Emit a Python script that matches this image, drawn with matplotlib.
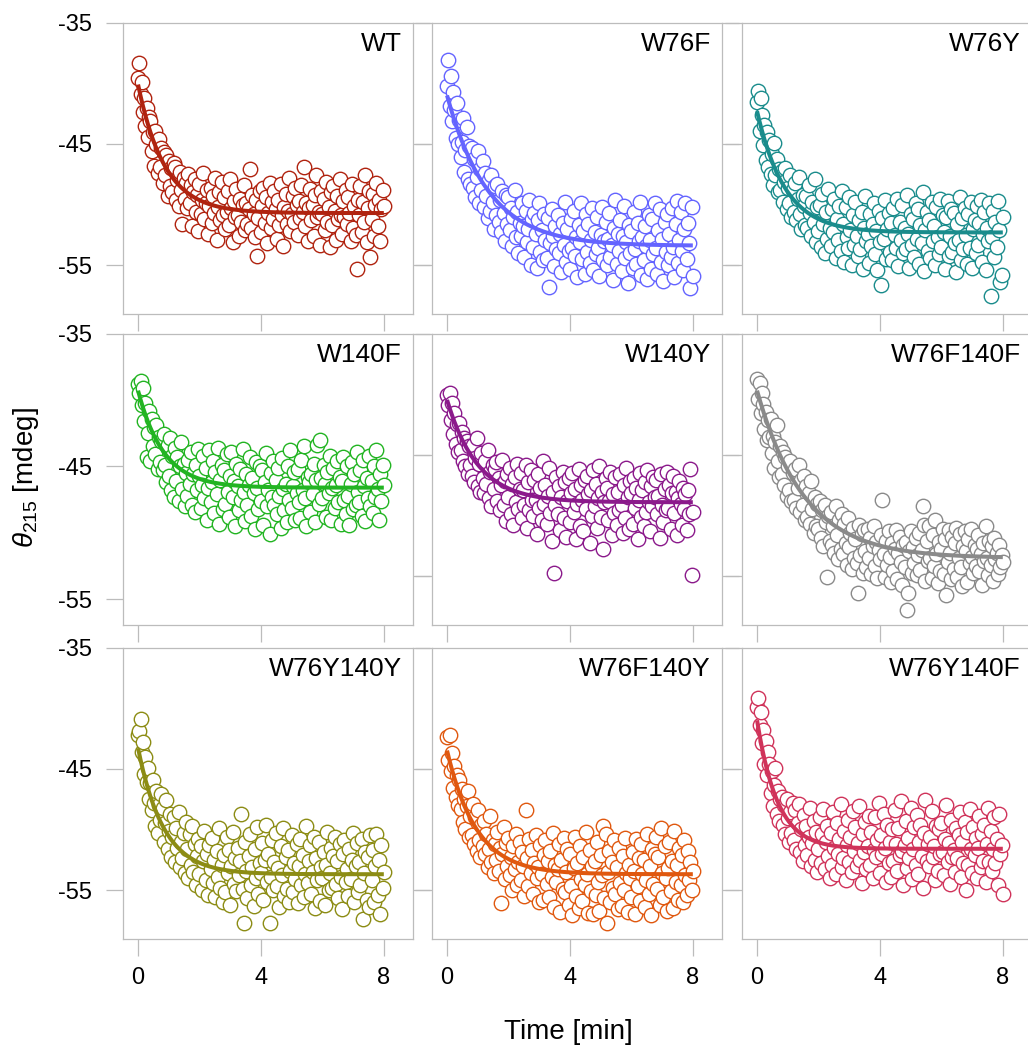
import numpy as np
import matplotlib
matplotlib.use('Agg')
from matplotlib import pyplot as plt

plt.rcParams['font.family'] = ['Liberation Sans', 'DejaVu Sans']
plt.rcParams['mathtext.fontset'] = 'custom'
plt.rcParams['mathtext.rm'] = 'Liberation Sans'
plt.rcParams['mathtext.it'] = 'Liberation Sans:italic'

# CD signal at 215 nm, one reading every 0.04 min
SAMPLE_STEP = 0.04

variants = ['WT', 'W76F', 'W76Y',
            'W140F', 'W140Y', 'W76F140F',
            'W76Y140Y', 'W76F140Y', 'W76Y140F']
colors = ['#b0230f', '#6464ff', '#1a8c8c',
          '#22b422', '#8b1a8b', '#8a8a8a',
          '#8c8c14', '#e0580f', '#d0335a']

# single-exponential fits: signal at t=0, plateau, rate [1/min]
fit_start = [-40.1, -41.0, -42.3, -39.3, -40.0, -39.3, -43.3, -43.5, -41.0]
fit_plateau = [-50.7, -53.4, -52.3, -46.6, -47.7, -51.9, -53.7, -53.7, -51.6]
fit_rate = [1.15, 0.75, 1.1, 1.2, 1.0, 0.65, 1.2, 1.05, 1.5]

wt = [
    -39.6, -38.3, -40.9, -39.9, -42.4, -41.2, -43.5, -42.0, -44.4, -42.8,
    -43.1, -45.6, -44.0, -46.8, -43.9, -45.0, -47.4, -44.6, -46.9, -45.3,
    -48.2, -45.7, -47.6, -45.9, -49.3, -46.4, -48.5, -47.0, -49.0, -46.6,
    -46.9, -49.6, -48.0, -50.1, -47.3, -48.8, -51.6, -47.8, -49.5, -48.2,
    -50.3, -47.5, -49.9, -48.4, -51.8, -49.0, -47.9, -50.6, -49.2, -52.2,
    -48.3, -50.8, -49.6, -47.4, -51.2, -49.9, -48.8, -52.4, -50.1, -48.6,
    -51.5, -49.3, -50.7, -47.8, -52.9, -50.2, -49.0, -51.3, -48.1, -50.9,
    -49.4, -52.0, -50.6, -48.9, -51.7, -47.9, -50.3, -53.1, -49.7, -51.0,
    -48.7, -50.9, -52.6, -49.5, -51.4, -50.0, -48.4, -52.1, -49.9, -51.6,
    -50.4, -47.1, -51.9, -49.2, -50.8, -52.7, -49.6, -54.2, -51.1, -48.9,
    -52.3, -50.1, -48.6, -51.5, -49.4, -53.2, -50.7, -48.2, -51.9, -49.8,
    -51.2, -48.9, -50.4, -52.8, -49.6, -51.7, -48.3, -50.9, -53.4, -50.2,
    -49.1, -51.6, -50.5, -47.8, -52.2, -50.8, -49.3, -51.4, -48.6, -50.0,
    -52.5, -49.7, -51.1, -48.4, -50.6, -46.9, -51.8, -49.9, -53.0, -50.3,
    -48.7, -51.3, -50.0, -52.6, -49.2, -47.6, -51.0, -50.6, -53.3, -48.9,
    -50.8, -49.5, -52.1, -48.1, -51.4, -50.2, -53.5, -49.0, -51.7, -48.5,
    -50.5, -52.9, -49.3, -51.2, -47.9, -50.9, -52.4, -49.7, -51.0, -48.8,
    -51.6, -49.4, -50.7, -53.0, -48.3, -51.9, -50.1, -52.5, -55.3, -49.6,
    -50.9, -48.5, -52.3, -49.8, -51.4, -47.6, -53.1, -50.3, -48.9, -54.3,
    -51.2, -49.1, -52.6, -50.0, -48.2, -51.8, -49.6, -53.0, -50.4, -48.8,
    -50.1]

w76f = [
    -40.2, -38.1, -41.9, -39.4, -43.1, -40.7, -42.2, -44.5, -41.6, -45.0,
    -43.0, -46.1, -44.8, -42.9, -47.3, -45.5, -43.6, -47.9, -45.2, -48.3,
    -45.3, -48.6, -46.2, -49.4, -47.7, -45.6, -49.9, -47.1, -48.8, -46.4,
    -50.2, -47.4, -49.3, -51.1, -48.0, -50.5, -47.6, -49.8, -52.0, -48.5,
    -50.9, -48.3, -51.4, -49.6, -52.3, -48.9, -50.7, -53.0, -49.2, -51.6,
    -49.4, -52.1, -50.3, -53.4, -51.0, -48.8, -52.7, -50.6, -54.0, -51.5,
    -52.6, -49.9, -51.8, -54.3, -50.5, -53.1, -52.0, -49.6, -55.0, -51.2,
    -53.5, -50.7, -52.4, -55.2, -51.3, -49.9, -53.9, -52.1, -54.6, -50.8,
    -52.9, -54.4, -51.1, -56.8, -53.2, -50.4, -52.6, -55.1, -51.8, -53.7,
    -50.9, -54.0, -52.4, -55.6, -51.5, -53.3, -49.8, -54.7, -52.0, -53.8,
    -55.3, -51.2, -53.6, -50.5, -54.2, -52.7, -56.0, -51.7, -53.1, -49.9,
    -54.5, -52.2, -55.7, -50.8, -53.9, -51.6, -54.8, -52.9, -50.3, -55.4,
    -52.3, -54.1, -51.0, -53.6, -55.9, -52.5, -50.2, -54.6, -53.0, -51.4,
    -55.0, -52.8, -50.7, -54.3, -53.3, -56.2, -51.9, -49.6, -54.9, -52.4,
    -53.8, -51.3, -55.5, -52.6, -50.1, -54.4, -53.1, -56.5, -51.7, -54.0,
    -52.2, -55.2, -50.6, -53.7, -54.9, -51.5, -53.0, -49.8, -55.8, -52.7,
    -54.6, -51.8, -53.4, -56.1, -50.9, -52.9, -55.3, -51.2, -54.1, -49.9,
    -53.6, -55.7, -52.1, -50.4, -54.7, -52.8, -56.3, -51.4, -53.9, -50.8,
    -55.0, -52.4, -54.3, -50.3, -53.5, -56.0, -51.6, -49.7, -54.8, -52.9,
    -50.6, -53.8, -55.4, -52.0, -49.9, -54.5, -51.5, -53.2, -56.9, -50.2,
    -55.9]

w76y = [
    -41.5, -40.6, -43.9, -41.2, -42.6, -45.1, -43.4, -46.3, -44.0, -46.9,
    -44.7, -47.5, -45.8, -48.4, -44.9, -47.6, -46.2, -49.0, -47.1, -48.8,
    -47.2, -49.8, -48.1, -47.0, -50.4, -48.6, -49.9, -47.6, -51.0, -48.8,
    -50.6, -48.2, -51.3, -49.5, -47.7, -50.8, -52.0, -49.2, -50.1, -51.7,
    -49.3, -51.9, -48.4, -50.7, -52.6, -49.8, -51.4, -47.9, -53.1, -50.2,
    -52.2, -50.0, -53.5, -49.1, -51.6, -54.0, -50.6, -52.8, -48.7, -51.9,
    -53.4, -50.4, -52.3, -49.5, -54.4, -51.2, -52.9, -50.1, -53.8, -48.9,
    -51.6, -54.7, -50.2, -52.7, -53.6, -49.4, -52.1, -55.0, -50.9, -53.3,
    -49.8, -52.6, -54.2, -51.3, -53.7, -50.6, -55.3, -51.9, -49.3, -53.0,
    -52.4, -54.8, -50.8, -53.4, -51.6, -49.9, -54.1, -52.2, -55.4, -50.5,
    -53.1, -56.6, -51.1, -52.8, -49.6, -54.5, -52.0, -50.7, -53.9, -51.5,
    -54.6, -50.3, -52.5, -53.6, -49.5, -55.1, -51.4, -52.9, -50.0, -54.0,
    -51.9, -53.7, -49.2, -52.4, -55.2, -50.8, -53.3, -51.2, -54.3, -49.9,
    -52.8, -50.4, -54.9, -51.7, -53.2, -49.0, -55.5, -52.1, -50.6, -53.8,
    -51.3, -54.4, -49.8, -53.0, -51.8, -55.0, -50.2, -52.7, -54.1, -49.5,
    -53.5, -50.9, -52.3, -55.3, -51.0, -49.7, -54.2, -52.6, -50.4, -53.9,
    -50.7, -53.2, -55.6, -51.6, -52.9, -49.4, -54.6, -51.1, -53.7, -50.3,
    -52.5, -54.9, -50.8, -53.6, -49.8, -55.2, -52.0, -51.3, -54.0, -50.1,
    -53.3, -51.5, -49.6, -54.7, -52.4, -50.6, -55.4, -51.9, -53.0, -49.9,
    -57.5, -52.7, -50.5, -54.3, -51.4, -53.5, -49.7, -52.1, -56.4, -55.8,
    -51.0]

w140f = [
    -38.8, -39.5, -38.6, -40.4, -39.1, -41.6, -40.2, -44.3, -42.5, -40.8,
    -44.6, -41.4, -43.5, -42.0, -44.1, -41.9, -45.2, -42.8, -44.7, -43.1,
    -45.3, -42.6, -44.9, -46.2, -43.4, -45.7, -42.9, -46.8, -44.2, -47.3,
    -43.6, -46.1, -44.3, -47.6, -45.0, -43.2, -46.7, -44.8, -48.0, -45.5,
    -47.2, -44.5, -46.3, -43.9, -47.9, -45.6, -48.4, -44.9, -46.8, -43.7,
    -45.7, -48.1, -46.4, -44.2, -47.4, -45.1, -49.0, -46.6, -43.8, -47.7,
    -46.2, -44.6, -48.5, -45.4, -47.1, -43.6, -49.3, -46.0, -44.9, -48.2,
    -45.3, -47.8, -44.1, -46.9, -48.8, -45.7, -43.9, -47.3, -46.1, -49.5,
    -44.8, -46.5, -48.3, -45.2, -47.5, -43.7, -46.9, -49.1, -45.6, -47.9,
    -46.4, -44.3, -48.7, -45.9, -47.0, -49.7, -44.7, -46.6, -48.2, -45.0,
    -47.6, -45.3, -49.4, -46.2, -44.0, -48.0, -46.8, -50.1, -45.5, -47.3,
    -44.6, -47.9, -46.0, -48.6, -45.1, -47.2, -49.6, -44.4, -46.7, -48.3,
    -46.3, -49.2, -45.0, -47.5, -43.8, -48.1, -46.5, -45.4, -49.0, -47.0,
    -45.2, -47.7, -48.9, -44.5, -46.8, -43.5, -47.4, -49.5, -45.8, -46.2,
    -48.4, -45.6, -47.1, -44.8, -49.2, -46.0, -43.4, -47.8, -43.0, -45.9,
    -47.4, -44.9, -46.3, -48.8, -45.4, -47.0, -44.2, -49.0, -46.6, -45.1,
    -48.1, -46.4, -44.6, -47.7, -45.8, -49.3, -46.1, -44.3, -47.5, -48.6,
    -45.0, -47.2, -49.4, -46.3, -44.7, -48.2, -45.6, -47.9, -43.9, -46.9,
    -47.7, -45.3, -48.7, -44.5, -46.5, -49.1, -45.9, -47.4, -44.2, -48.0,
    -46.1, -48.5, -45.0, -47.3, -43.8, -46.7, -49.0, -45.6, -47.6, -44.9,
    -46.4]

w140y = [
    -39.6, -40.4, -39.5, -41.5, -40.2, -42.6, -41.0, -43.3, -41.8, -43.9,
    -41.7, -43.8, -42.4, -44.6, -42.9, -45.0, -43.1, -45.6, -43.5, -44.9,
    -45.7, -43.4, -46.2, -44.4, -42.9, -46.5, -44.8, -46.9, -44.0, -45.9,
    -47.0, -44.6, -46.3, -43.8, -47.4, -45.4, -48.0, -44.9, -46.7, -45.2,
    -44.7, -47.6, -45.9, -48.3, -46.4, -44.5, -47.9, -46.1, -49.1, -45.6,
    -47.3, -45.1, -48.6, -46.3, -49.4, -45.8, -47.7, -44.8, -48.2, -46.7,
    -45.5, -48.9, -46.8, -47.9, -44.9, -49.6, -46.2, -48.3, -45.3, -47.5,
    -48.7, -46.0, -47.5, -50.1, -45.6, -48.1, -46.6, -49.0, -44.6, -47.8,
    -46.4, -49.3, -47.2, -45.1, -48.5, -50.6, -46.9, -53.0, -47.9, -45.8,
    -48.6, -46.5, -49.8, -47.3, -45.4, -48.9, -46.2, -50.3, -47.6, -45.9,
    -49.2, -47.0, -45.5, -48.4, -46.7, -50.5, -47.8, -45.2, -49.5, -46.4,
    -47.5, -49.9, -46.0, -48.2, -45.7, -47.1, -50.8, -46.8, -48.7, -45.3,
    -48.0, -46.3, -49.6, -47.4, -45.0, -48.8, -46.9, -51.2, -47.7, -45.9,
    -46.6, -49.0, -47.6, -45.4, -50.2, -47.1, -48.5, -45.8, -49.4, -46.9,
    -48.3, -45.6, -47.9, -50.0, -46.4, -48.9, -45.1, -47.3, -49.7, -46.1,
    -47.0, -49.3, -45.9, -48.1, -46.6, -50.5, -47.5, -45.5, -48.8, -46.8,
    -49.5, -46.2, -48.4, -45.3, -47.7, -49.9, -46.5, -48.0, -45.8, -47.3,
    -46.0, -48.6, -47.2, -50.4, -45.6, -47.9, -49.2, -46.7, -48.3, -45.4,
    -48.1, -46.4, -49.7, -47.0, -45.7, -48.5, -46.9, -50.2, -47.4, -46.1,
    -47.8, -49.4, -46.6, -48.2, -47.1, -49.8, -46.8, -48.6, -45.2, -53.2,
    -48.4]

w76f140f = [
    -38.4, -39.9, -38.7, -41.0, -39.5, -40.3, -42.2, -40.9, -43.0, -41.5,
    -42.8, -41.4, -44.0, -42.7, -45.1, -43.2, -41.9, -44.6, -45.8, -43.5,
    -45.6, -43.9, -46.4, -44.3, -47.2, -45.0, -46.8, -44.6, -47.6, -45.5,
    -47.5, -45.2, -48.1, -46.6, -44.9, -48.4, -46.0, -47.9, -45.7, -49.0,
    -46.5, -48.8, -47.0, -49.3, -46.1, -48.2, -50.0, -47.3, -49.5, -47.8,
    -49.7, -47.6, -50.4, -48.3, -51.0, -47.9, -49.2, -53.3, -48.7, -50.6,
    -48.4, -50.9, -49.5, -51.5, -48.0, -50.2, -52.0, -49.0, -51.2, -48.6,
    -51.6, -49.3, -50.8, -52.4, -48.9, -51.1, -50.0, -52.7, -49.6, -51.9,
    -50.5, -52.3, -54.5, -49.4, -51.7, -50.1, -53.0, -49.8, -51.4, -52.6,
    -49.7, -51.9, -50.4, -53.1, -51.0, -49.5, -52.5, -50.7, -53.4, -51.3,
    -52.0, -50.2, -47.5, -51.6, -53.3, -50.6, -52.4, -49.9, -51.8, -53.7,
    -50.8, -52.9, -51.2, -49.8, -53.5, -51.5, -50.3, -52.2, -53.9, -50.9,
    -52.6, -50.7, -55.8, -54.5, -51.4, -49.9, -53.0, -51.1, -52.3, -50.4,
    -53.2, -51.7, -50.0, -52.8, -51.3, -48.0, -49.4, -53.6, -50.6, -52.1,
    -49.5, -51.9, -53.4, -50.2, -52.5, -49.0, -51.6, -53.8, -50.7, -52.9,
    -51.2, -49.7, -53.1, -50.5, -54.7, -52.2, -49.8, -51.5, -53.5, -50.3,
    -52.7, -50.8, -49.6, -53.3, -51.9, -50.1, -52.6, -54.0, -51.0, -49.9,
    -51.4, -53.7, -50.5, -52.3, -49.7, -51.8, -53.0, -50.9, -52.5, -51.2,
    -50.2, -52.9, -51.6, -53.9, -50.8, -52.1, -49.5, -51.9, -53.2, -50.6,
    -52.4, -51.0, -53.6, -50.4, -52.0, -51.5, -53.1, -50.9, -52.6, -51.7,
    -52.2]

w76y140y = [
    -42.2, -41.9, -40.9, -43.6, -42.8, -45.4, -44.0, -46.1, -44.9, -47.5,
    -46.2, -48.4, -45.9, -47.8, -49.7, -46.8, -50.3, -48.0, -49.2, -47.1,
    -48.2, -51.0, -49.5, -47.6, -51.6, -50.1, -48.7, -52.3, -50.6, -49.0,
    -52.7, -49.9, -51.5, -48.6, -53.1, -51.0, -52.4, -50.3, -53.6, -49.4,
    -51.6, -54.0, -50.4, -52.9, -49.7, -53.5, -51.2, -54.6, -52.2, -50.8,
    -53.7, -51.4, -55.0, -52.6, -50.1, -54.2, -52.0, -55.4, -51.3, -53.3,
    -50.7, -54.4, -52.5, -55.6, -51.8, -53.9, -49.9, -54.8, -52.9, -56.0,
    -52.1, -55.2, -50.6, -53.6, -51.7, -56.2, -53.0, -50.2, -54.5, -52.4,
    -55.1, -51.5, -53.8, -52.6, -48.7, -54.9, -57.7, -51.0, -53.4, -55.7,
    -52.2, -50.4, -54.6, -53.1, -56.3, -51.6, -54.0, -49.8, -55.3, -52.8,
    -53.6, -51.1, -55.8, -52.5, -49.6, -54.3, -52.0, -57.7, -53.9, -50.9,
    -55.0, -52.7, -50.3, -54.7, -53.2, -56.4, -51.4, -53.8, -49.9, -55.5,
    -52.3, -54.9, -51.7, -56.0, -53.4, -50.5, -55.2, -52.8, -54.1, -51.2,
    -56.1, -53.0, -50.8, -54.6, -52.1, -55.6, -53.7, -49.7, -54.4, -52.6,
    -51.3, -55.3, -53.5, -50.6, -56.5, -52.4, -54.2, -51.0, -55.9, -53.1,
    -54.0, -51.9, -56.2, -52.9, -50.2, -55.0, -53.6, -51.5, -54.8, -52.2,
    -50.6, -54.5, -52.6, -55.7, -51.2, -53.9, -56.6, -52.0, -50.9, -54.3,
    -53.3, -55.5, -51.6, -54.1, -52.5, -50.3, -56.0, -53.0, -51.1, -55.2,
    -52.7, -54.6, -50.8, -57.4, -53.6, -51.9, -55.8, -52.3, -56.4, -50.5,
    -54.2, -51.7, -56.0, -53.0, -50.4, -55.4, -52.5, -57.0, -51.3, -54.8,
    -53.5]

w76f140y = [
    -42.4, -44.3, -42.2, -45.2, -43.7, -46.6, -44.8, -47.3, -45.5, -48.0,
    -45.9, -48.3, -46.7, -49.4, -47.5, -50.0, -48.1, -46.8, -50.6, -48.9,
    -50.5, -47.9, -51.2, -49.0, -51.8, -48.4, -50.9, -52.3, -49.6, -51.4,
    -49.3, -52.0, -50.4, -53.1, -51.6, -48.9, -52.7, -50.9, -53.6, -51.2,
    -52.5, -50.2, -53.4, -51.5, -56.1, -52.0, -49.8, -54.1, -51.1, -53.0,
    -50.7, -53.8, -52.3, -55.0, -51.4, -53.3, -50.4, -54.6, -52.7, -51.0,
    -54.2, -51.9, -53.0, -55.5, -48.4, -52.4, -54.7, -50.8, -53.6, -51.7,
    -55.3, -52.8, -50.5, -54.0, -53.1, -56.0, -51.3, -53.7, -55.8, -52.1,
    -50.9, -54.5, -52.6, -55.6, -51.8, -53.9, -50.3, -56.4, -52.9, -54.3,
    -53.3, -51.2, -56.8, -52.5, -54.9, -50.7, -55.2, -53.5, -51.6, -56.2,
    -52.0, -54.7, -57.1, -53.2, -50.6, -55.5, -52.8, -56.5, -51.4, -54.1,
    -55.9, -52.3, -54.6, -50.2, -53.7, -56.9, -51.7, -55.1, -53.0, -57.0,
    -52.6, -55.4, -51.0, -54.3, -56.7, -52.1, -53.8, -49.7, -55.7, -50.4,
    -57.7, -53.5, -51.8, -56.0, -52.7, -54.8, -50.9, -55.3, -53.1, -56.6,
    -51.5, -54.4, -56.3, -52.2, -55.0, -50.7, -53.6, -56.8, -52.9, -54.0,
    -55.6, -51.9, -53.4, -57.0, -50.8, -54.7, -52.4, -55.9, -51.2, -53.7,
    -52.5, -56.4, -54.2, -50.4, -55.3, -53.0, -57.1, -51.6, -54.5, -52.0,
    -50.6, -54.9, -52.3, -56.2, -49.9, -53.6, -55.6, -51.4, -54.0, -56.7,
    -53.2, -51.0, -55.1, -52.6, -56.5, -50.1, -54.3, -52.9, -55.8, -51.5,
    -54.6, -52.1, -56.0, -50.9, -53.8, -55.4, -51.8, -54.2, -52.7, -55.0,
    -53.4]

w76y140f = [
    -39.9, -39.2, -41.4, -40.3, -42.9, -41.8, -44.6, -42.7, -45.5, -43.6,
    -44.6, -47.0, -45.2, -48.1, -46.3, -44.9, -48.7, -46.8, -49.3, -47.5,
    -47.3, -49.6, -48.0, -50.4, -47.5, -49.1, -51.0, -48.6, -50.3, -47.8,
    -50.9, -48.4, -51.6, -49.5, -47.9, -51.9, -50.0, -52.6, -48.8, -51.3,
    -49.7, -52.1, -50.6, -48.2, -53.0, -51.1, -49.3, -52.5, -50.2, -53.5,
    -51.6, -49.0, -52.8, -50.4, -48.3, -53.3, -51.0, -49.7, -52.2, -54.0,
    -50.3, -52.9, -48.6, -51.5, -53.7, -49.5, -52.0, -50.8, -47.9, -53.1,
    -52.4, -50.1, -54.2, -51.3, -49.2, -52.7, -50.6, -53.5, -48.5, -51.8,
    -49.8, -53.0, -51.1, -48.1, -52.5, -54.4, -50.4, -51.9, -49.4, -53.3,
    -51.4, -48.9, -52.9, -50.2, -54.0, -51.7, -49.0, -52.3, -50.9, -47.8,
    -53.6, -50.5, -52.0, -48.7, -51.5, -54.3, -49.6, -52.8, -51.0, -53.9,
    -50.0, -52.6, -48.4, -51.2, -53.4, -49.9, -52.1, -47.7, -51.8, -54.6,
    -51.3, -49.3, -53.2, -50.7, -52.4, -48.2, -54.1, -51.6, -49.8, -52.9,
    -48.8, -53.7, -51.0, -49.6, -52.2, -54.8, -50.3, -47.6, -52.6, -51.2,
    -53.0, -50.6, -48.5, -52.3, -51.4, -54.2, -49.7, -53.4, -50.0, -52.0,
    -49.5, -51.9, -53.8, -50.8, -48.0, -52.7, -51.1, -54.5, -49.2, -52.3,
    -51.7, -53.5, -49.9, -52.4, -50.5, -48.6, -53.9, -51.0, -52.8, -49.4,
    -55.0, -50.2, -52.9, -48.3, -51.6, -53.6, -49.8, -52.1, -50.7, -54.0,
    -51.5, -48.9, -53.1, -50.4, -52.6, -49.6, -54.3, -51.2, -48.2, -52.7,
    -50.1, -53.4, -51.6, -49.0, -52.8, -50.8, -54.6, -48.7, -52.0, -51.3,
    -55.3]

signals = [wt, w76f, w76y,
           w140f, w140y, w76f140f,
           w76y140y, w76f140y, w76y140f]

# y range of each panel row
row_ylims = [(-59.0, -35.0), (-56.9, -35.0), (-59.0, -35.0)]
ytick_vals = [-35, -45, -55]

W, H = 1028, 1050
fig = plt.figure(figsize=(W / 100, H / 100), dpi=100)

col_left = [123, 432, 742]
row_top = [22.7, 333.5, 647.5]
pw, ph = 290, 291

grey = '#bcbcbc'
tick_len = 12.2

for i, name in enumerate(variants):
    r, c = divmod(i, 3)
    ax = fig.add_axes([col_left[c] / W, 1 - (row_top[r] + ph) / H, pw / W, ph / H])
    lo, hi = row_ylims[r]

    t = np.arange(len(signals[i])) * SAMPLE_STEP
    ax.scatter(t, signals[i], s=108, facecolors='white', edgecolors=colors[i],
               linewidths=1.0, zorder=2)

    tt = np.linspace(0, t[-1], 300)
    fit = fit_plateau[i] + (fit_start[i] - fit_plateau[i]) * np.exp(-fit_rate[i] * tt)
    ax.plot(tt, fit, color=colors[i], lw=2.9, zorder=3, solid_capstyle='butt')

    ax.set_xlim(-0.49, 8.95)
    ax.set_ylim(lo, hi)
    ax.set_xticks([0, 4, 8])

    # inner tick marks sit at the same height in every row
    ref_lo, ref_hi = row_ylims[0]
    inner = [hi - (hi - v) / (ref_hi - ref_lo) * (hi - lo) for v in ytick_vals]
    if c == 0:
        ax.set_yticks(ytick_vals)
        ax.set_yticklabels([str(v) for v in ytick_vals])
        if r == 1:
            axr = ax.twinx()
            axr.set_ylim(lo, hi)
            axr.set_yticks(inner)
            axr.tick_params(axis='y', direction='out', length=tick_len, width=0.9,
                            color=grey, labelright=False)
            for sp in axr.spines.values():
                sp.set_visible(False)
            ax.tick_params(axis='y', right=False)
        else:
            ax.tick_params(axis='y', right=True)
    else:
        ax.set_yticks(inner)
        ax.tick_params(axis='y', right=True, labelleft=False)

    ax.tick_params(axis='both', direction='out', length=tick_len, width=0.9,
                   color=grey, labelsize=17, colors=grey, labelcolor='black')
    ax.tick_params(axis='x', pad=8, labelbottom=(r == 2))
    ax.tick_params(axis='y', pad=10)
    for sp in ax.spines.values():
        sp.set_color(grey)
        sp.set_linewidth(0.9)

    ax.text(0.962, 0.967, name, transform=ax.transAxes, ha='right', va='top',
            fontsize=19)

fig.text(568 / W, 1 - 1032 / H, 'Time [min]', ha='center', va='center', fontsize=20)
fig.text(26 / W, 1 - 478 / H, r'$\theta_{215}$ [mdeg]', ha='center', va='center',
         rotation=90, fontsize=20)

fig.savefig('out.png', dpi=100)
